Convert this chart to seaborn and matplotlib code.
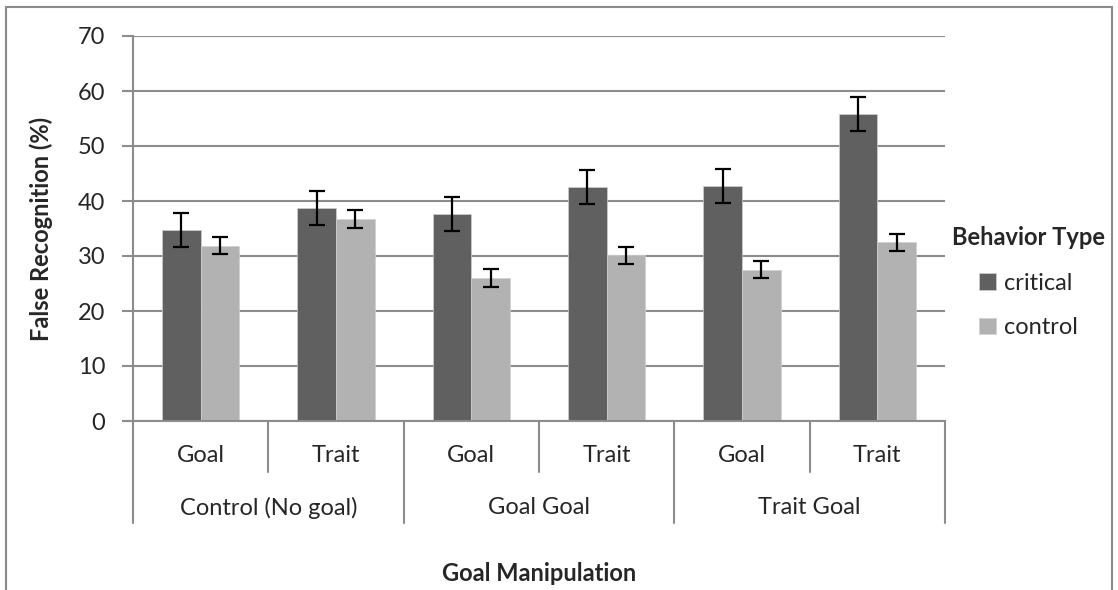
#Import packages
import pandas as pd
import matplotlib.pyplot as plt
import seaborn as sns
from matplotlib.lines import Line2D
from matplotlib.patches import Rectangle

#Data
goal_conditions = ["Control (No goal)", "Goal Goal", "Trait Goal"]
instructions = ["Goal", "Trait"]
behavior_types = ["critical", "control"]
critical = [34.7, 38.7, 37.6, 42.6, 42.8, 55.9]
control = [31.9, 36.7, 26.0, 30.1, 27.5, 32.5]
critical_err = [3.1, 3.1, 3.1, 3.1, 3.1, 3.1]
control_err = [1.6, 1.6, 1.6, 1.6, 1.55, 1.55]

#Build long dataframe for seaborn
bars = [g + " | " + i for g in goal_conditions for i in instructions]
df = pd.DataFrame({
    "bar": bars * 2,
    "value": critical + control,
    "Behavior Type": ["critical"] * 6 + ["control"] * 6,
})

sns.set_style("white")
plt.rcParams['font.family'] = ['Lato', 'DejaVu Sans']
fs = 17

fig = plt.figure(figsize=(11.18, 5.90), dpi=100)
ax = fig.add_axes([133/1118, 1 - 421/590, (945-133)/1118, (421-36)/590])

sns.barplot(data=df, x="bar", y="value", hue="Behavior Type", order=bars,
            hue_order=behavior_types, palette=["#606060", "#b2b2b2"],
            width=0.57, ax=ax, saturation=1, edgecolor="#d0d0d0", linewidth=0.5)

#Error bars on bar centres
errs = [critical_err, control_err]
for cont, err in zip(ax.containers, errs):
    xs = [b.get_x() + b.get_width()/2 for b in cont]
    hs = [b.get_height() for b in cont]
    ax.errorbar(xs, hs, yerr=err, fmt="none", ecolor="black", elinewidth=1.6,
                capsize=6, capthick=1.6, zorder=5)

ax.set_ylim(0, 70)
ax.set_yticks(range(0, 71, 10))
ax.set_xlim(-0.5, 5.5)
ax.grid(axis="y", color="#8c8c8c", lw=1.5)
ax.set_axisbelow(True)
for s in ["top", "right"]:
    ax.spines[s].set_visible(False)
for s in ["left", "bottom"]:
    ax.spines[s].set_color("#8c8c8c")
    ax.spines[s].set_linewidth(1.5)
ax.tick_params(axis="y", length=8, color="#8c8c8c", width=1.5, labelsize=fs, pad=12, left=True)
ax.set_xticks([])
ax.set_xlabel("")
ax.set_ylabel("False Recognition (%)", fontsize=fs, fontweight="bold", labelpad=18)

#Multi-level category axis
trans = ax.get_xaxis_transform()
for k, b in enumerate(bars):
    ax.text(k, -0.09, instructions[k % 2], transform=trans, ha="center", va="center", fontsize=fs)
for k in range(7):
    depth = -0.265 if k % 2 == 0 else -0.1325
    ax.add_line(Line2D([k - 0.5, k - 0.5], [0, depth], transform=trans,
                       color="#8c8c8c", lw=1.5, clip_on=False))
for j, g in enumerate(goal_conditions):
    ax.text(2*j + 0.5, -0.225, g, transform=trans, ha="center", va="center", fontsize=fs)
ax.text(2.5, -0.395, "Goal Manipulation", transform=trans, ha="center", va="center",
        fontsize=fs, fontweight="bold")

#Legend
leg = ax.legend(title="Behavior Type", loc="upper left", bbox_to_anchor=(952/1118, 1 - 226/590),
                bbox_transform=fig.transFigure, frameon=False, fontsize=fs,
                title_fontproperties={"weight": "bold", "size": fs},
                handlelength=0.7, handleheight=0.7, handletextpad=0.35, labelspacing=1.0,
                borderpad=0, borderaxespad=0)

#Chart border like the original
fig.add_artist(Rectangle((6/1118, -0.1), (1112-6)/1118, 1 - 7/590 + 0.1,
                         transform=fig.transFigure, fill=False, ec="#8a8a8a", lw=1.5))

plt.savefig("out.png", dpi=100)
